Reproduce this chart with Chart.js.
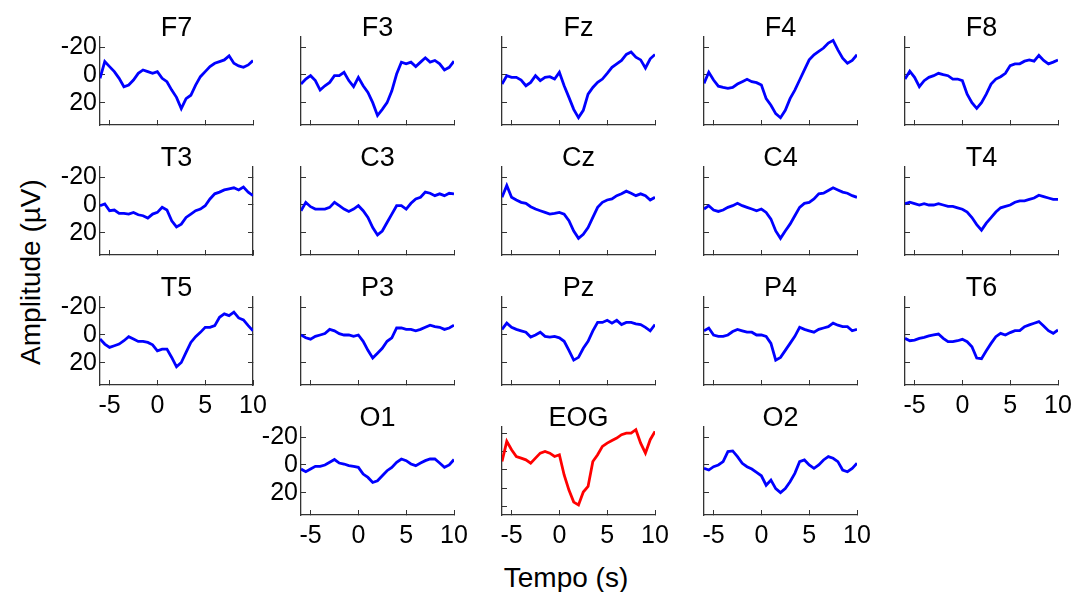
<!DOCTYPE html>
<html>
<head>
<meta charset="utf-8">
<script src="https://cdn.jsdelivr.net/npm/chart.js@4.4.0/dist/chart.umd.min.js"></script>
<style>
  body { margin: 0; background: #fff; }
  #fig { position: relative; width: 1073px; height: 592px; overflow: hidden; font-family: "Liberation Sans", Arial, sans-serif; }
  .panel { position: absolute; }
  .lab { position: absolute; font-size: 28px; color: #000; white-space: nowrap; line-height: 1; }
  #ylab { left: 31px; top: 272px; transform: translate(-50%, -50%) rotate(-90deg); }
  #xlab { left: 566px; top: 578px; transform: translate(-50%, -50%); }
</style>
</head>
<body>
<div id="fig">
  <div class="lab" id="ylab">Amplitude (µV)</div>
  <div class="lab" id="xlab">Tempo (s)</div>
</div>
<script>
// time axis (s), sampled every 0.5 s
const tempo = [-6, -5.5, -5, -4.5, -4, -3.5, -3, -2.5, -2, -1.5, -1, -0.5, 0, 0.5, 1, 1.5, 2,
               2.5, 3, 3.5, 4, 4.5, 5, 5.5, 6, 6.5, 7, 7.5, 8, 8.5, 9, 9.5, 10];
const tempoTicks = [-5, 0, 5, 10];
const eegTicks = [-20, 0, 20];
const eogTicks = [-40, -20, 0, 20, 40];

// amplitudes (µV)
const F7 = [2.4, -9.6, -6, -2.4, 2.4, 8.4, 7.2, 3.6, -1.2, -3.6, -2.4, -1.2, -2.4, 2.4, 4.8, 10.8, 16, 24, 17, 14.5, 7.2, 1.2, -2.4, -6, -8.4, -9.6, -10.8, -13.7, -8.4, -6.5, -5.5, -7.2, -10.3];
const F3 = [6.5, 2.9, 0.5, 4, 10.8, 7.7, 5.3, 0.5, 0.5, -1.9, 4, 8.4, 1.7, 7.7, 12.5, 19.8, 29, 24.6, 19.8, 11.3, -0.7, -9.2, -8, -9.2, -6, -9.2, -12.3, -9.2, -10.4, -8, -3.6, -5.5, -9.9];
const Fz = [6.5, 0.5, 1.7, 1.7, 3.6, 7.7, 5.3, 0.5, 4, 1.7, 1.2, 2.9, -1.9, 7.7, 16, 24.6, 30.5, 25.3, 13.7, 8.9, 5.3, 2.9, -1.2, -5.5, -8, -10.4, -14.7, -16.4, -12.8, -10.8, -5, -11.6, -14.7];
const F4 = [6, -2, 3.6, 8, 8.9, 9.6, 8.9, 6.5, 4.8, 3.1, 4.8, 5.5, 7.2, 16.9, 21.7, 27.7, 30.6, 25.3, 16.9, 10.8, 3.6, -3.6, -10.8, -14.5, -16.9, -19.3, -22.9, -24.8, -18, -12, -8.4, -10.4, -14.5];
const F8 = [2.9, -2.7, 1.7, 8.4, 4.1, 1.7, 0.5, -1.2, -0.2, 0.5, 2.9, 2.9, 4.1, 13.7, 19.8, 23.9, 19.8, 13.7, 6.5, 2.9, 1.2, -1.2, -6.7, -8, -8, -9.9, -10.8, -9.9, -14, -10.4, -8, -9.2, -10.8];
const T3 = [0.5, -0.7, 4.1, 3.6, 6, 6, 6.5, 5.3, 7, 7.7, 9.4, 6.5, 5.3, 1.7, 3.6, 11.3, 15.7, 13.7, 8.9, 6.5, 4.1, 2.9, 0.5, -4.3, -8, -9.2, -10.8, -11.6, -12.3, -10.8, -12.8, -9.2, -6.7];
const C3 = [4.1, -1.9, 1.2, 2.9, 2.9, 2.9, 1.7, -1.9, 0.5, 2.9, 4.6, 2.9, 0.5, 4.1, 8.9, 16.1, 21.4, 18.6, 12.5, 6.5, 0.5, 0.5, 2.9, -1.2, -4.3, -5.5, -9.2, -8.4, -6.7, -8, -6.7, -8.4, -8];
const Cz = [-5.5, -14, -5.5, -3.6, -1.9, -1.2, 1.2, 2.9, 4.1, 5.3, 6.5, 6, 5.3, 6.5, 11.3, 18.6, 23.9, 21, 16.1, 8.9, 1.7, -1.9, -3.6, -4.3, -6.7, -8, -9.9, -8.4, -6.7, -8, -6.7, -3.6, -5.5];
const C4 = [2.9, 0.5, 3.6, 4.6, 3.6, 1.7, 0.5, -1.2, 0.5, 1.7, 2.9, 4.1, 2.9, 5.3, 10.1, 18.6, 23.9, 18.6, 13.7, 7.7, 1.7, -1.2, -1.9, -4.3, -8, -8.4, -10.4, -12.3, -10.8, -9.2, -8.4, -6.7, -5.5];
const T4 = [-1, -2, -1, 0, -1, 0, 0, -1, 0, 1, 1, 2, 3, 5, 9, 14, 18, 13, 9, 5, 2, 1, 0, -2, -3, -3, -4, -5, -7, -6, -5, -4, -4];
const T5 = [2.9, 6.5, 8.9, 7.7, 6.5, 4.1, 1.2, 2.9, 4.6, 4.6, 5.3, 7, 11.3, 10.1, 10.1, 16.1, 22.8, 19.7, 12.5, 5.3, 1.2, -1.9, -5.5, -5.5, -6.7, -12.7, -15.1, -13.9, -16.3, -12.2, -10.8, -6.7, -3.1];
const P3 = [0, 2, 3, 1, 0, -1, -4, -3, -1, 0, 0, 1, 0, 4.5, 11, 16.5, 13, 9.5, 4.5, 2, -5, -5, -4, -4, -3, -4, -5.5, -7, -6, -5.5, -4, -5, -7];
const Pz = [-4, -8.5, -5.5, -4, -3, -2, 1.5, 0, -2, 1, 1.5, 1, 2, 4.5, 11, 18, 16, 9.5, 4.5, -3, -9, -9, -10.5, -8.5, -10.5, -7.5, -9, -9, -8, -7.5, -5.5, -3, -7.5];
const P4 = [-3, -5, 0, 1, 1, 0, -2.5, -4, -3, -2, -2, 0, 0, 1, 6, 18, 16, 11, 6, 1, -5.5, -4, -3, -2, -4, -5, -6, -8.5, -7, -6, -6, -3, -4];
const T6 = [2.4, 4.1, 3.6, 2.4, 1.7, 0.7, 0, -0.7, 2.4, 4.8, 4.8, 4.1, 3.1, 4.8, 8.4, 16.5, 17, 11.3, 6, 1.2, -1.2, 0, -1.7, -3.1, -3.1, -6, -7.2, -8.4, -9.6, -6.5, -3.1, -1.2, -3.6];
const O1 = [2.9, 4.8, 2.9, 1, 1, 0, -1.9, -3.9, -1.4, -0.7, 0.5, 1, 1.7, 6.5, 8.9, 12.5, 11.3, 7.7, 4.1, 1.7, -1.9, -4.3, -3.1, -0.7, 0.5, -1.4, -3.1, -4.3, -4.3, -1.4, 1.7, 0, -3.9];
const EOG = [-9.1, -31, -21.9, -14.6, -12.8, -10.9, -7.3, -12.8, -18.2, -20, -18.2, -14.6, -16.4, 5.5, 21.9, 35, 38, 24, 18, -9.1, -16.4, -25.5, -29.1, -32, -34.6, -38.3, -40, -40, -43.7, -29.1, -18.2, -32.8, -41.9];
const O2 = [2.4, 3.6, 1.2, 0, -2.4, -9.6, -10.1, -6, -1.2, 1.2, 2.9, 5.3, 7.7, 14.5, 10.8, 16.9, 19.8, 16.9, 12, 6, -2.4, -3.6, 0, 2.4, 0, -3.6, -6, -4.8, -2.4, 3.6, 4.8, 2.4, -1.2];

// name, column, row, values
const panels = [
  ['F7', 0, 0, F7], ['F3', 1, 0, F3], ['Fz', 2, 0, Fz], ['F4', 3, 0, F4], ['F8', 4, 0, F8],
  ['T3', 0, 1, T3], ['C3', 1, 1, C3], ['Cz', 2, 1, Cz], ['C4', 3, 1, C4], ['T4', 4, 1, T4],
  ['T5', 0, 2, T5], ['P3', 1, 2, P3], ['Pz', 2, 2, Pz], ['P4', 3, 2, P4], ['T6', 4, 2, T6],
  ['O1', 1, 3, O1], ['EOG', 2, 3, EOG], ['O2', 3, 3, O2]
];
const showYLabels = ['F7', 'T3', 'T5', 'O1'];
const showXLabels = ['T5', 'O1', 'EOG', 'O2', 'T6'];
const boxed = ['T3', 'T5'];

const colX = [100, 301, 502, 704, 905];
const rowY = [37, 167, 297, 427];
const plotW = 153, plotH = 88;
const padL = 62, padR = 24, padT = 32, padB = 44;
const FONT = '"Liberation Sans", Arial, sans-serif';
const AXIS = '#333333';

const fig = document.getElementById('fig');

panels.forEach(([name, col, row, vals]) => {
  const isEog = name === 'EOG';
  const yMin = isEog ? -46.6 : -27.2;
  const yMax = isEog ? 49 : 35.8;
  const yTicks = isEog ? eogTicks : eegTicks;

  const div = document.createElement('div');
  div.className = 'panel';
  div.style.left = (colX[col] - padL) + 'px';
  div.style.top = (rowY[row] - padT) + 'px';
  const canvas = document.createElement('canvas');
  canvas.width = plotW + padL + padR;
  canvas.height = plotH + padT + padB;
  div.appendChild(canvas);
  fig.appendChild(div);

  const tickGrid = { display: true, drawOnChartArea: false, drawTicks: true, tickLength: -5, color: AXIS, lineWidth: 1 };
  const border = { display: true, color: AXIS, width: 1.3 };

  const scales = {
    x: {
      type: 'linear', min: -6, max: 10,
      afterBuildTicks: s => { s.ticks = tempoTicks.map(v => ({ value: v })); },
      afterFit: s => { s.height = padB; s.paddingLeft = 0; s.paddingRight = 0; },
      grid: tickGrid, border: border,
      ticks: { display: showXLabels.includes(name), color: '#000', padding: 11, maxRotation: 0, autoSkip: false,
               font: { family: FONT, size: 25 } }
    },
    y: {
      type: 'linear', position: 'left', reverse: true, min: yMin, max: yMax,
      afterBuildTicks: s => { s.ticks = yTicks.map(v => ({ value: v })); },
      afterFit: s => { s.width = padL; s.paddingTop = 0; s.paddingBottom = 0; },
      grid: tickGrid, border: border,
      ticks: { display: showYLabels.includes(name), color: '#000', padding: 8, autoSkip: false,
               font: { family: FONT, size: 25 } }
    }
  };
  if (boxed.includes(name)) {
    scales.yr = {
      type: 'linear', position: 'right', reverse: true, min: yMin, max: yMax,
      afterBuildTicks: s => { s.ticks = yTicks.map(v => ({ value: v })); },
      afterFit: s => { s.width = 0; s.paddingTop = 0; s.paddingBottom = 0; },
      grid: tickGrid, border: border,
      ticks: { display: false }
    };
  }

  new Chart(canvas, {
    type: 'line',
    data: {
      datasets: [{
        data: tempo.map((t, i) => ({ x: t, y: vals[i] })),
        borderColor: isEog ? '#ff0000' : '#0000ff',
        borderWidth: 2.8,
        pointRadius: 0,
        tension: 0,
        fill: false
      }]
    },
    options: {
      responsive: false,
      animation: false,
      layout: { padding: { left: 0, right: padR, top: 0, bottom: 0 } },
      plugins: {
        legend: { display: false },
        tooltip: { enabled: false },
        title: {
          display: true, text: name, color: '#000', fullSize: false,
          font: { family: FONT, size: 27, weight: 'normal', lineHeight: '16px' },
          padding: { top: 16, bottom: 0 }
        }
      },
      scales: scales
    }
  });
});
</script>
</body>
</html>
